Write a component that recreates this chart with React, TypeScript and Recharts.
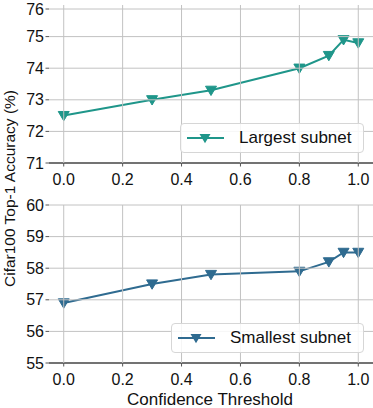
import React from "react";
import { LineChart, Line, XAxis, YAxis } from "recharts";

const thresholds = [0.0, 0.3, 0.5, 0.8, 0.9, 0.95, 1.0];
const largestAcc = [72.5, 73.0, 73.3, 74.0, 74.4, 74.9, 74.8];
const smallestAcc = [56.9, 57.5, 57.8, 57.9, 58.2, 58.5, 58.5];
const xTicks = [0.0, 0.2, 0.4, 0.6, 0.8, 1.0];
const topTicks = [71, 72, 73, 74, 75, 76];
const bottomTicks = [55, 56, 57, 58, 59, 60];
const xDomain = [-0.05, 1.05];

const TEAL = "#1f968a";
const BLUE = "#2f6b90";
const GRID = "#c2c2c2";
const FONT = "'Liberation Sans', Arial, sans-serif";

const PLOT_LEFT = 49;
const PLOT_RIGHT = 373;
const PLOT_H = 158;

const topData = thresholds.map((t, i) => ({ t, v: largestAcc[i] }));
const bottomData = thresholds.map((t, i) => ({ t, v: smallestAcc[i] }));

const makeTri = (color: string) => (props: any) => {
  const { cx, cy, index } = props;
  if (cx == null || cy == null) return <g key={index} />;
  const s = 5.5;
  return (
    <path
      key={index}
      d={`M${cx - s},${cy - s * 0.75} L${cx + s},${cy - s * 0.75} L${cx},${cy + s * 0.95} Z`}
      fill={color}
      stroke={color}
      strokeWidth={1}
    />
  );
};

const makeXTick = (axisY: number) => (props: any) => {
  const { x, y, payload } = props;
  return (
    <g>
      <line x1={x} y1={axisY} x2={x} y2={axisY - PLOT_H} stroke={GRID} strokeWidth={1} />
      <line x1={x} y1={axisY} x2={x} y2={axisY + 3.5} stroke="#555" strokeWidth={1} />
      <text x={x} y={y} dy={14} textAnchor="middle" style={{ fontSize: 16, fill: "#111", fontFamily: FONT }}>
        {Number(payload.value).toFixed(1)}
      </text>
    </g>
  );
};

const makeYTick = (minTick: number) => (props: any) => {
  const { y, payload } = props;
  return (
    <g>
      {payload.value !== minTick && (
        <line x1={PLOT_LEFT} y1={y} x2={PLOT_RIGHT} y2={y} stroke={GRID} strokeWidth={1} />
      )}
      <line x1={PLOT_LEFT - 3.5} y1={y} x2={PLOT_LEFT} y2={y} stroke="#555" strokeWidth={1} />
      <text x={PLOT_LEFT - 5} y={y} dy={5.5} textAnchor="end" style={{ fontSize: 16, fill: "#111", fontFamily: FONT }}>
        {payload.value}
      </text>
    </g>
  );
};

const LegendBox = ({ color, label, width }: { color: string; label: string; width: number }) => (
  <div
    style={{
      width,
      height: 30,
      border: "1px solid #d6d6d6",
      borderRadius: 4,
      background: "rgba(255,255,255,0.85)",
      display: "flex",
      alignItems: "center",
      fontFamily: FONT,
      fontSize: 17,
      color: "#111",
      boxSizing: "border-box",
    }}
  >
    <svg width={52} height={28} style={{ flex: "none" }}>
      <line x1={6} y1={14} x2={43} y2={14} stroke={color} strokeWidth={2} />
      <path d="M18.5,9.9 L29.5,9.9 L24,19.2 Z" fill={color} />
    </svg>
    <span style={{ marginLeft: 6 }}>{label}</span>
  </div>
);

export default function App() {
  return (
    <div style={{ position: "absolute", left: 0, top: 0, width: 373, height: 408, background: "#fff", overflow: "hidden" }}>
      <div style={{ position: "absolute", left: 0, top: 0 }}>
        <LineChart width={373} height={190} data={topData} margin={{ top: 5, right: 0, left: 0, bottom: 0 }}>
          <YAxis
            type="number"
            domain={[71, 76]}
            ticks={topTicks}
            tick={makeYTick(71)}
            tickLine={false}
            axisLine={false}
            width={PLOT_LEFT}
          />
          <XAxis
            dataKey="t"
            type="number"
            domain={xDomain}
            ticks={xTicks}
            tick={makeXTick(163)}
            tickLine={false}
            axisLine={{ stroke: "#444", strokeWidth: 1.3 }}
            height={27}
          />
          <Line dataKey="v" stroke={TEAL} strokeWidth={2} dot={makeTri(TEAL)} isAnimationActive={false} />
        </LineChart>
      </div>
      <div style={{ position: "absolute", left: 0, top: 190 }}>
        <LineChart width={373} height={218} data={bottomData} margin={{ top: 15, right: 0, left: 0, bottom: 0 }}>
          <YAxis
            type="number"
            domain={[55, 60]}
            ticks={bottomTicks}
            tick={makeYTick(55)}
            tickLine={false}
            axisLine={false}
            width={PLOT_LEFT}
          />
          <XAxis
            dataKey="t"
            type="number"
            domain={xDomain}
            ticks={xTicks}
            tick={makeXTick(173)}
            tickLine={false}
            axisLine={{ stroke: "#444", strokeWidth: 1.3 }}
            height={45}
          />
          <Line dataKey="v" stroke={BLUE} strokeWidth={2} dot={makeTri(BLUE)} isAnimationActive={false} />
        </LineChart>
      </div>
      <div style={{ position: "absolute", left: 180, top: 123 }}>
        <LegendBox color={TEAL} label="Largest subnet" width={184} />
      </div>
      <div style={{ position: "absolute", left: 171, top: 323 }}>
        <LegendBox color={BLUE} label="Smallest subnet" width={193} />
      </div>
      <svg style={{ position: "absolute", left: 0, top: 0 }} width={373} height={408} pointerEvents="none">
        <text
          x={0}
          y={0}
          transform="translate(15,188.5) rotate(-90)"
          textAnchor="middle"
          style={{ fontSize: 15.5, fill: "#111", fontFamily: FONT }}
        >
          Cifar100 Top-1 Accuracy (%)
        </text>
        <text x={210} y={405} textAnchor="middle" style={{ fontSize: 17, fill: "#111", fontFamily: FONT }}>
          Confidence Threshold
        </text>
      </svg>
    </div>
  );
}
